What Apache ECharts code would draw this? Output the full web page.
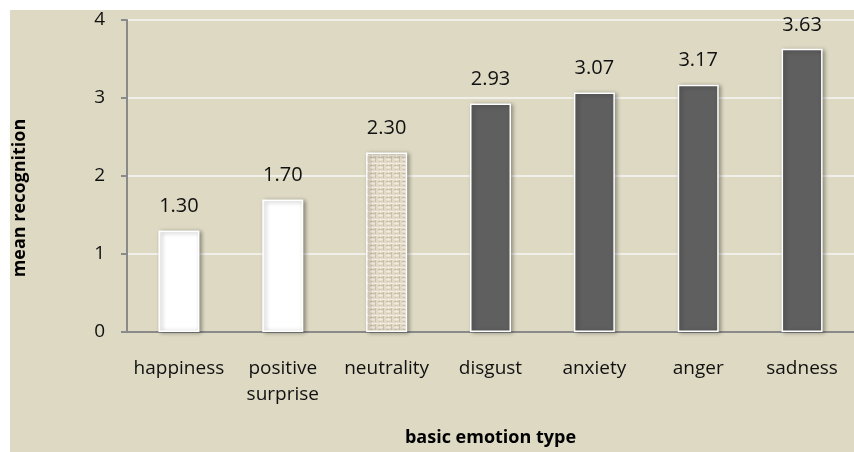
<!DOCTYPE html>
<html>
<head>
<meta charset="utf-8">
<script src="https://cdn.jsdelivr.net/npm/echarts@6/dist/echarts.min.js"></script>
<style>
    html, body { margin: 0; padding: 0; background: #fff; }
    #chart { position: absolute; left: 10px; top: 10px; width: 844px; height: 442px; background: #DDD9C3; }
</style>
</head>
<body>
<div id="chart"></div>
<script>
var categories = ['happiness', 'positive\nsurprise', 'neutrality', 'disgust', 'anxiety', 'anger', 'sadness'];
var meanValues = [1.30, 1.70, 2.30, 2.93, 3.07, 3.17, 3.63];
var yTicks = [0, 1, 2, 3, 4];

// linen-like texture for the neutral bar
function makeLinen() {
    var c = document.createElement('canvas');
    c.width = 8;
    c.height = 8;
    var ctx = c.getContext('2d');
    ctx.fillStyle = '#E2D9C7';
    ctx.fillRect(0, 0, 8, 8);
    ctx.fillStyle = '#F1EBDF';
    ctx.fillRect(0, 1, 8, 1);
    ctx.fillRect(0, 5, 5, 1);
    ctx.fillRect(2, 0, 1, 8);
    ctx.fillStyle = '#CBBFA8';
    ctx.fillRect(0, 3, 6, 1);
    ctx.fillRect(5, 2, 1, 6);
    ctx.fillRect(1, 7, 2, 1);
    return c;
}
var linen = makeLinen();

function barColor(i) {
    if (i < 2) return '#FFFFFF';
    if (i == 2) return { image: linen, repeat: 'repeat' };
    return '#5F5F5F';
}

var barData = [];
for (var i = 0; i < meanValues.length; i++) {
    barData.push({
        value: meanValues[i],
        itemStyle: { color: barColor(i) }
    });
}

var chart = echarts.init(document.getElementById('chart'));
var font = "'Open Sans', sans-serif";
var option = {
    animation: false,
    textStyle: { fontFamily: font, color: '#000' },
    grid: { left: 117, top: 10, width: 737, height: 312 },
    xAxis: {
        type: 'category',
        data: categories,
        name: 'basic emotion type',
        nameLocation: 'middle',
        nameGap: 97,
        nameTextStyle: { fontFamily: font, fontWeight: 'bold', fontSize: 18, color: '#000' },
        axisLine: { lineStyle: { color: '#8A8A8A', width: 2 } },
        axisTick: { length: 6, lineStyle: { color: '#8A8A8A', width: 2 } },
        axisLabel: { fontFamily: font, fontSize: 19, lineHeight: 26, color: '#111', margin: 24, interval: 0 }
    },
    yAxis: {
        type: 'value',
        min: yTicks[0],
        max: yTicks[yTicks.length - 1],
        interval: 1,
        axisLine: { show: true, lineStyle: { color: '#8A8A8A', width: 2 } },
        axisTick: { show: true, length: 6, lineStyle: { color: '#8A8A8A', width: 2 } },
        axisLabel: { fontFamily: font, fontSize: 19, color: '#111', margin: 22 },
        splitLine: { lineStyle: { color: '#F0EFEA', width: 2 } }
    },
    graphic: [{
        type: 'text',
        x: 10,
        y: 188,
        rotation: Math.PI / 2,
        style: {
            text: 'mean recognition',
            font: "bold 18px 'Open Sans', sans-serif",
            fill: '#000',
            align: 'center',
            verticalAlign: 'middle'
        }
    }],
    series: [{
        type: 'bar',
        data: barData,
        barWidth: 41,
        itemStyle: {
            borderColor: '#FFFFFF',
            borderWidth: 1.5,
            shadowColor: 'rgba(0,0,0,0.35)',
            shadowBlur: 4,
            shadowOffsetX: 2,
            shadowOffsetY: 1
        },
        label: {
            show: true,
            position: 'top',
            distance: 14,
            fontFamily: font,
            fontSize: 20,
            color: '#111',
            formatter: function (p) { return p.value.toFixed(2); }
        }
    }]
};
chart.setOption(option);
</script>
</body>
</html>
